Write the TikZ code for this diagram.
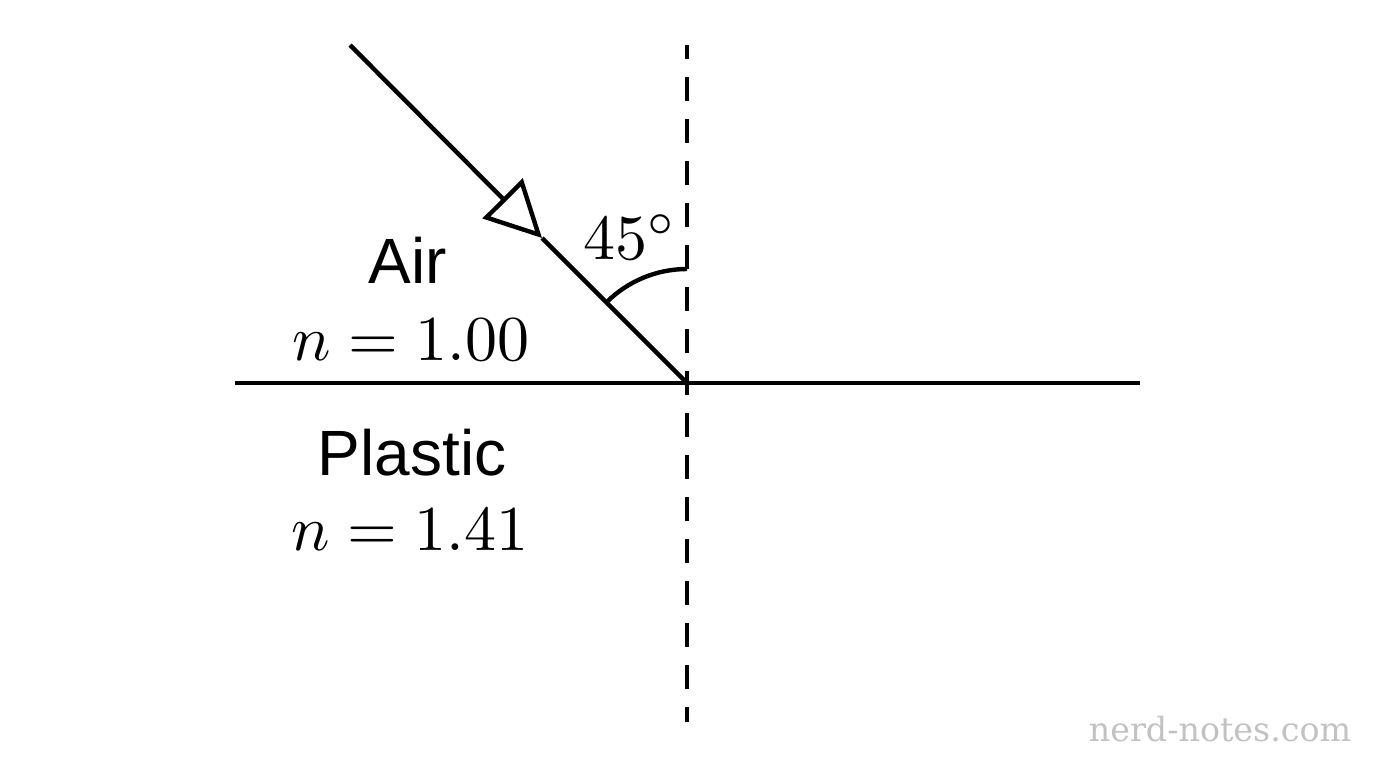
\documentclass[tikz,border=0pt]{standalone}
\usepackage{fontspec}
\usepackage{graphicx}
\newfontfamily\sansf{Liberation Sans}
\newfontfamily\wmfont{DejaVu Serif}
\newcommand{\bigmath}[1]{\scalebox{4.8}{$#1$}}
\usetikzlibrary{arrows.meta}
\tikzset{
  line/.style={line width=3.3pt},
  normalline/.style={line width=3.3pt, dash pattern=on 18pt off 13.5pt, dash phase=7.5pt},
  raytip/.style={-{Triangle[open,length=42pt,width=42pt]}, line width=3.3pt, line join=miter},
  sanslabel/.style={anchor=base, inner sep=0pt, font=\sansf\fontsize{48}{58}\selectfont},
  mathlabel/.style={anchor=base, inner sep=0pt, font=\fontsize{10}{12}\selectfont},
  watermark/.style={anchor=base, inner sep=0pt, font=\wmfont\fontsize{25}{30}\selectfont, text=black!24}
}
\begin{document}
\begin{tikzpicture}[x=0.75pt,y=-0.75pt]
\useasboundingbox (0,0) rectangle (1376,768);
\coordinate (O) at (687,383);
\coordinate (S) at (350,45);
\coordinate (T) at (542,238);
\coordinate (L) at (235,383);
\coordinate (R) at (1140,383);
\coordinate (N1) at (687,45);
\coordinate (N2) at (687,722);
\draw[line] (L) -- (R);
\draw[normalline] (N1) -- (N2);
\draw[raytip] (S) -- (T);
\draw[line] (T) -- (O);
\draw[line] (O) ++(-90:114) arc[start angle=-90, end angle=-135, radius=114];
\node[sanslabel] (air) at (408,283) {Air};
\node[mathlabel] (n1) at (411,360) {\bigmath{n = 1.00}};
\node[sanslabel] (plastic) at (412,475) {Plastic};
\node[mathlabel] (n2) at (410,550) {\bigmath{n = 1.41}};
\node[mathlabel] (ang) at (630,259) {\bigmath{45^\circ}};
\node[watermark] (wm) at (1220,741) {nerd-notes.com};
\end{tikzpicture}
\end{document}
